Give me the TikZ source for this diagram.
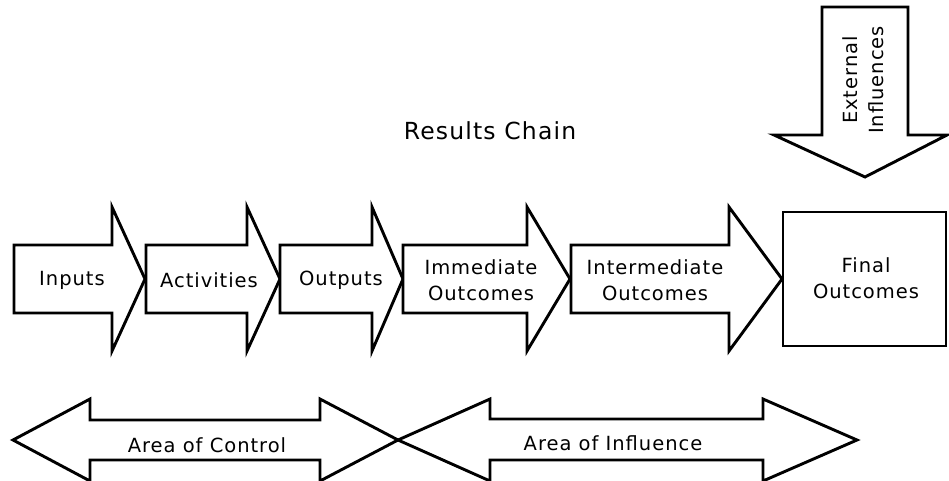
\documentclass[tikz,border=0pt]{standalone}
\usepackage{fontspec}
\setmainfont{DejaVu Sans}[LetterSpace=5]
\begin{document}
\begin{tikzpicture}[x=1pt,y=-1pt,
  shapeline/.style={draw=black,fill=white,line width=2.9pt,line join=miter},
  lbl/.style={font=\fontsize{19.5}{26}\selectfont,align=center,inner sep=0pt},
  title/.style={font=\fontsize{23.5}{28}\selectfont,inner sep=0pt}]
\useasboundingbox (0,0) rectangle (949,481);
\clip (0,0) rectangle (949,481);

% chain of block arrows (body 245..313, head 207..351, axis 279)
\draw[shapeline] (14,245) -- (112,245) -- (112,207) -- (145,279) -- (112,351) -- (112,313) -- (14,313) -- cycle;
\draw[shapeline] (146,245) -- (247,245) -- (247,207) -- (280,279) -- (247,351) -- (247,313) -- (146,313) -- cycle;
\draw[shapeline] (280,245) -- (372,245) -- (372,207) -- (403,279) -- (372,351) -- (372,313) -- (280,313) -- cycle;
\draw[shapeline] (403,245) -- (527,245) -- (527,207) -- (570,279) -- (527,351) -- (527,313) -- (403,313) -- cycle;
\draw[shapeline] (571,245) -- (729,245) -- (729,207) -- (782,279) -- (729,351) -- (729,313) -- (571,313) -- cycle;

% final outcomes box
\draw[shapeline] (783,212) rectangle (946,346);

% external influences arrow pointing down
\draw[shapeline] (822,7) -- (908,7) -- (908,135) -- (947,135) -- (865,177) -- (774,135) -- (822,135) -- cycle;

% areas along the bottom
\draw[shapeline] (13,440) -- (90,399) -- (90,420) -- (320,420) -- (320,399) -- (398,440) -- (320,481) -- (320,460) -- (90,460) -- (90,481) -- cycle;
\draw[shapeline] (398,440) -- (490,399) -- (490,419) -- (763,419) -- (763,399) -- (857,440) -- (763,481) -- (763,460) -- (490,460) -- (490,481) -- cycle;

% labels
\node[title] (title) at (490,131) {Results Chain};
\node[lbl] (inputs) at (72,280) {Inputs};
\node[lbl] (activities) at (209,280) {Activities};
\node[lbl] (outputs) at (341,280) {Outputs};
\node[lbl] (immediate) at (481,280) {Immediate\\Outcomes};
\node[lbl] (intermediate) at (655,280) {Intermediate\\Outcomes};
\node[lbl] (final) at (866,278) {Final\\Outcomes};
\node[lbl,rotate=90] (external) at (863,80) {External\\Influences};
\node[lbl] (control) at (207,445) {Area of Control};
\node[lbl] (influence) at (613,443) {Area of Influence};
\end{tikzpicture}
\end{document}
